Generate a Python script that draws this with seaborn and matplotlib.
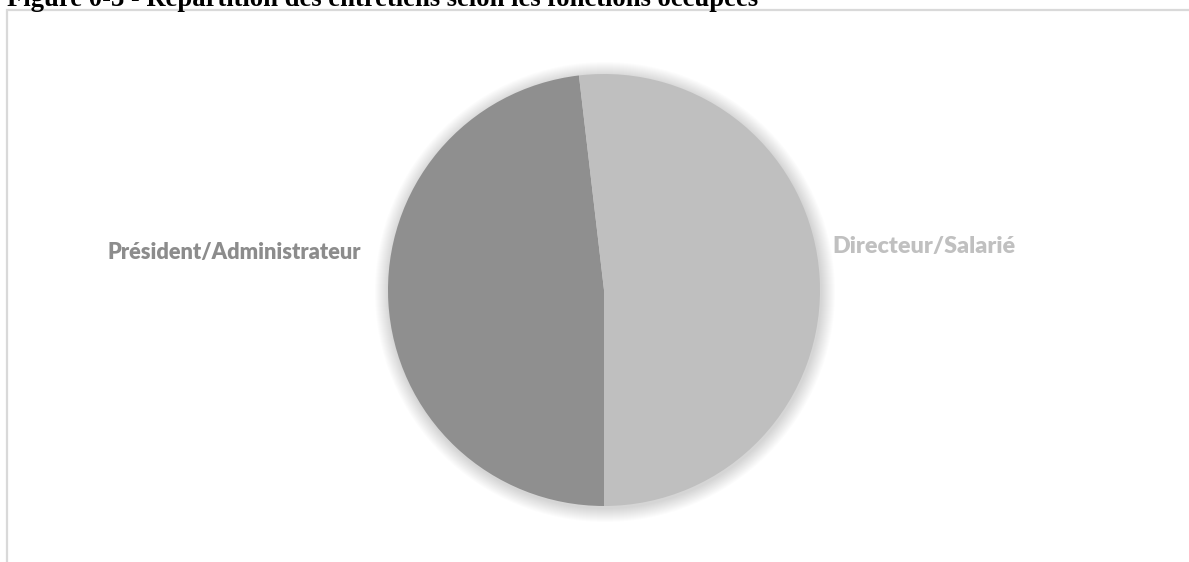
import matplotlib
matplotlib.use("Agg")
import matplotlib.pyplot as plt
from matplotlib.patches import Circle
import seaborn as sns

# Répartition des entretiens selon les fonctions occupées
categories = ["Président/Administrateur", "Directeur/Salarié"]
counts = [13, 14]
slice_colors = ["#8f8f8f", "#bfbfbf"]
label_colors = ["#8c8c8c", "#c0c0c0"]
title = "Figure 0-3 - Répartition des entretiens selon les fonctions occupées"

sns.set_theme(style="white")
plt.rcParams["font.family"] = ["Lato", "DejaVu Sans"]

W, H = 1189, 562
fig = plt.figure(figsize=(W / 100, H / 100), dpi=100)
ax = fig.add_axes([0, 0, 1, 1])

cx, cy, r = 604, H - 290, 216

# soft shadow around the pie
for k in range(1, 15):
    ax.add_patch(Circle((cx + 1, cy - 2), r + k, facecolor="black",
                        edgecolor="none", alpha=0.010, zorder=0))

wedges, _ = ax.pie(counts, colors=slice_colors, startangle=-90,
                   counterclock=False, center=(cx, cy), radius=r,
                   wedgeprops=dict(linewidth=0))
for w in wedges:
    w.set_zorder(2)

ax.set_xlim(0, W)
ax.set_ylim(0, H)
ax.set_aspect("equal")
ax.axis("off")

# chart frame
ax.plot([7, 7, W + 5], [-5, H - 10, H - 10], color="#d9d9d9", lw=1.6,
        solid_joinstyle="miter", clip_on=False, zorder=1)

# category labels
ax.text(361, H - 259, categories[0], ha="right", va="baseline",
        fontsize=15.7, fontweight="heavy", color=label_colors[0])
ax.text(832, H - 253, categories[1], ha="left", va="baseline",
        fontsize=16.8, fontweight="heavy", color=label_colors[1])

# figure caption above the frame
fig.text(7 / W, 1 - 6 / H, title, ha="left", va="baseline",
         fontsize=19.2, fontweight="bold", color="black",
         family=["Liberation Serif", "DejaVu Serif"])

fig.savefig("out.png", dpi=100)
